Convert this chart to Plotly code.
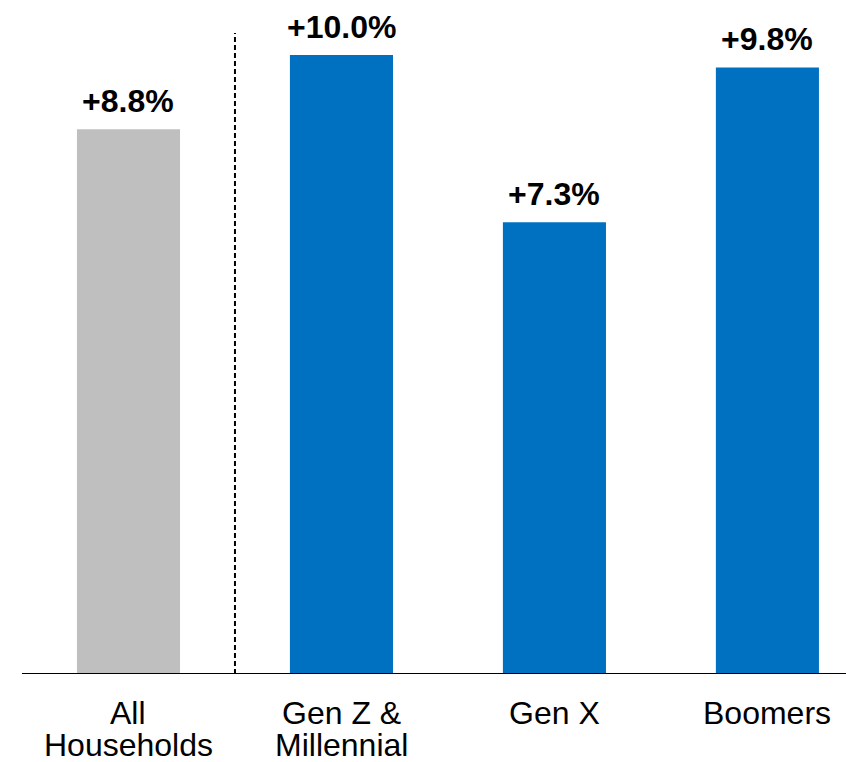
import plotly.graph_objects as go

# Household spending growth by generation
categories = ["All Households", "Gen Z & Millennial", "Gen X", "Boomers"]
label_lines = [["All", "Households"], ["Gen Z &", "Millennial"], ["Gen X"], ["Boomers"]]
values = [8.8, 10.0, 7.3, 9.8]
value_labels = ["+8.8%", "+10.0%", "+7.3%", "+9.8%"]
colors = ["#BFBFBF", "#0070C0", "#0070C0", "#0070C0"]

FONT = "Liberation Sans, Arial, sans-serif"
xs = list(range(len(categories)))

fig = go.Figure(
    go.Bar(
        x=xs,
        y=values,
        marker=dict(color=colors, line=dict(width=0)),
        width=0.484,
        hoverinfo="skip",
    )
)

annotations = []
# value labels above bars
for x, v, t in zip(xs, values, value_labels):
    annotations.append(dict(
        x=x, y=v, xref="x", yref="y", text=f"<b>{t}</b>", showarrow=False,
        yanchor="bottom", yshift=8,
        font=dict(family=FONT, size=32, color="#000000"),
    ))
# category labels below the axis, one annotation per line
for x, lines in zip(xs, label_lines):
    for i, line in enumerate(lines):
        annotations.append(dict(
            x=x, y=0, xref="x", yref="y", text=line, showarrow=False,
            yanchor="top", yshift=-19 - 32 * i,
            font=dict(family=FONT, size=32, color="#000000"),
        ))

fig.update_layout(
    width=846, height=762,
    margin=dict(l=22, r=0, t=0, b=88),
    paper_bgcolor="white", plot_bgcolor="white",
    showlegend=False,
    annotations=annotations,
    xaxis=dict(
        range=[-0.5, 3.369], showticklabels=False, showgrid=False, zeroline=False,
        showline=False, ticks="",
    ),
    yaxis=dict(
        range=[0, 674 / 61.9], visible=False, showgrid=False, zeroline=False,
    ),
    shapes=[
        # baseline
        dict(type="line", xref="paper", yref="y", x0=0, x1=1, y0=0, y1=0,
             line=dict(color="#000000", width=2)),
        # divider between total and generations
        dict(type="line", xref="x", yref="y", x0=0.5, x1=0.5, y0=0, y1=(674 - 33) / 61.9,
             line=dict(color="#000000", width=2, dash="5px,3px")),
    ],
)

fig.write_html("out.html")
